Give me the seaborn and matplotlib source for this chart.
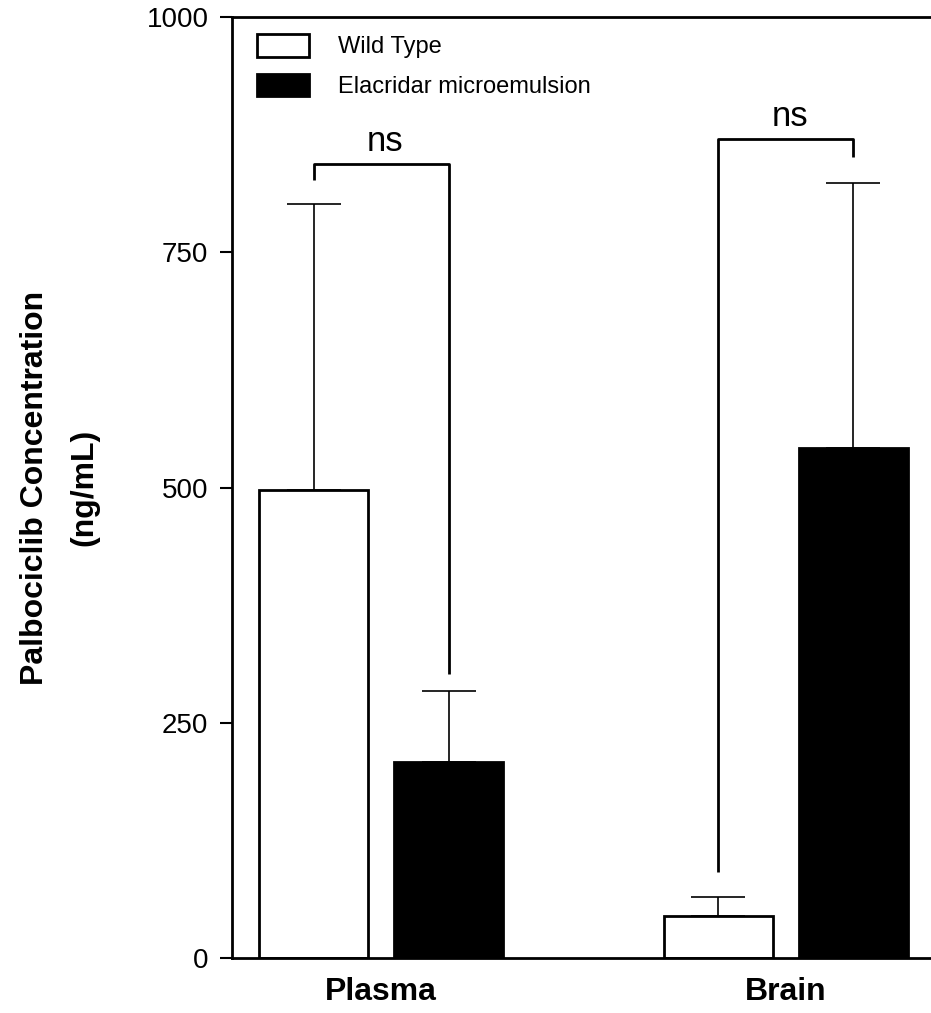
import pandas as pd
import matplotlib
matplotlib.use("Agg")
import matplotlib.pyplot as plt
import seaborn as sns

# values
tissues = ["Plasma", "Brain"]
groups = ["Wild Type", "Elacridar microemulsion"]
wt_mean = [497, 44.6]
wt_err = [304, 20.5]
ela_mean = [208.6, 542]
ela_err = [75, 282]

# significance brackets: (bar level, left leg end, right leg end)
bracket_top = [843.8, 870.4]
bracket_left_end = [826.8, 91.7]
bracket_right_end = [301.8, 851.5]
bracket_text = ["ns", "ns"]

yticks = [0, 250, 500, 750, 1000]


def build_frame():
    rows = []
    for i, t in enumerate(tissues):
        rows.append({"Tissue": t, "Group": groups[0], "Conc": wt_mean[i]})
        rows.append({"Tissue": t, "Group": groups[1], "Conc": ela_mean[i]})
    return pd.DataFrame(rows)


def make_chart(df):
    sns.set_style("ticks")
    plt.rcParams["font.family"] = ["Liberation Sans", "DejaVu Sans"]
    for key in ["text.color", "axes.labelcolor", "xtick.color", "ytick.color"]:
        plt.rcParams[key] = "black"

    fig = plt.figure(figsize=(9.31, 10.13), dpi=100)
    ax = fig.add_axes([0.2492, 0.0543, 0.856, 0.9289])

    sns.barplot(data=df, x="Tissue", y="Conc", hue="Group", order=tissues,
                hue_order=groups, palette=["white", "black"], edgecolor="black",
                linewidth=2, width=0.667, gap=0.19, errorbar=None, ax=ax,
                legend=False)

    wt_x = [p.get_x() + p.get_width() / 2 for p in ax.containers[0]]
    ela_x = [p.get_x() + p.get_width() / 2 for p in ax.containers[1]]

    # one-sided (upper) error bars
    ax.errorbar(wt_x, wt_mean, yerr=[[0, 0], wt_err], fmt="none",
                ecolor="black", elinewidth=1.2, capsize=19.5, capthick=1.2, zorder=3)
    ax.errorbar(ela_x, ela_mean, yerr=[[0, 0], ela_err], fmt="none",
                ecolor="black", elinewidth=1.2, capsize=19.5, capthick=1.2, zorder=1)

    for i in range(len(tissues)):
        xs = [wt_x[i], wt_x[i], ela_x[i], ela_x[i]]
        ys = [bracket_left_end[i], bracket_top[i], bracket_top[i], bracket_right_end[i]]
        ax.plot(xs, ys, color="black", lw=2, solid_capstyle="butt")
        ax.text((wt_x[i] + ela_x[i]) / 2 + 0.01, bracket_top[i] + 6, bracket_text[i],
                ha="center", va="bottom", fontsize=25)

    ax.set_xlim(-0.368, 1.6)
    ax.set_ylim(0, 1000)
    ax.set_yticks(yticks)
    ax.set_yticklabels([str(v) for v in yticks])
    ax.tick_params(axis="y", length=9, width=1.5, labelsize=20, pad=8)
    ax.tick_params(axis="x", length=0, labelsize=23, pad=14)
    for lab in ax.get_xticklabels():
        lab.set_fontweight("bold")
    for s in ax.spines.values():
        s.set_linewidth(2)
        s.set_color("black")

    ax.set_xlabel("")
    ax.set_ylabel("Palbociclib Concentration\n(ng/mL)", fontsize=23,
                  fontweight="bold", linespacing=1.84)
    ax.yaxis.set_label_coords(-0.167, 0.5)

    handles = [ax.containers[0][0], ax.containers[1][0]]
    ax.legend(handles, groups, loc="upper left", bbox_to_anchor=(0.031, 0.982),
              frameon=False, fontsize=17, handlelength=2.2, handleheight=1.1,
              handletextpad=1.25, labelspacing=0.65, borderpad=0, borderaxespad=0)

    fig.savefig("out.png", dpi=100)
    plt.close(fig)


def main():
    df = build_frame()
    make_chart(df)


if __name__ == "__main__":
    main()
